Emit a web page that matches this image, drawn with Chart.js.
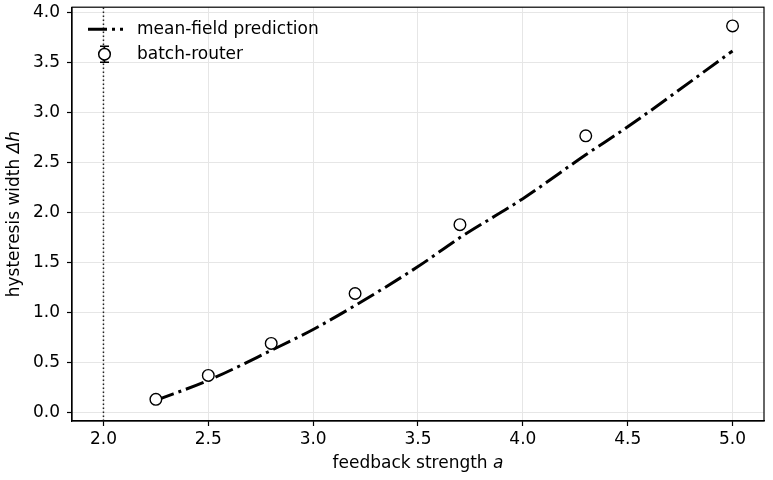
<!DOCTYPE html>
<html><head><meta charset="utf-8">
<script src="https://cdn.jsdelivr.net/npm/chart.js@4/dist/chart.umd.min.js"></script>
<style>html,body{margin:0;padding:0;background:#fff}canvas{display:block}</style>
</head><body>
<canvas id="c" width="773" height="480"></canvas>
<script>
// measured (batch-router) points
const A_MEASURED = [2.25, 2.5, 2.8, 3.2, 3.7, 4.3, 5.0];
const DH_MEASURED = [0.13, 0.37, 0.69, 1.19, 1.88, 2.77, 3.87];
// mean-field prediction curve
const A_MEANFIELD = [2.25, 2.5, 2.8, 3.0, 3.2, 3.5, 3.7, 4.0, 4.3, 4.5, 5.0];
const DH_MEANFIELD = [0.12, 0.32, 0.62, 0.83, 1.07, 1.46, 1.75, 2.14, 2.58, 2.86, 3.62];
// critical feedback strength (vertical dotted line)
const A_CRITICAL = 2.0;
// axes
const X_TICKS = [2.0, 2.5, 3.0, 3.5, 4.0, 4.5, 5.0];
const Y_TICKS = [0.0, 0.5, 1.0, 1.5, 2.0, 2.5, 3.0, 3.5, 4.0];
const X_LIMITS = [1.85, 5.15];
const Y_LIMITS = [-0.087, 4.058];
const LEGEND_LABELS = ['mean-field prediction', 'batch-router'];

const FONT = 'DejaVu Sans';
const FS = 17;

const measured = A_MEASURED.map((a, i) => ({x: a, y: DH_MEASURED[i]}));
const meanfield = A_MEANFIELD.map((a, i) => ({x: a, y: DH_MEANFIELD[i]}));
const vline = [{x: A_CRITICAL, y: Y_LIMITS[0]}, {x: A_CRITICAL, y: Y_LIMITS[1]}];

function drawMixed(ctx, parts, x, y, align) {
  let total = 0;
  const widths = parts.map(([t, it]) => {
    ctx.font = (it ? 'italic ' : '') + FS + 'px "' + FONT + '"';
    const w = ctx.measureText(t).width; total += w; return w;
  });
  let cx = align === 'center' ? x - total / 2 : x;
  parts.forEach(([t, it], i) => {
    ctx.font = (it ? 'italic ' : '') + FS + 'px "' + FONT + '"';
    ctx.fillText(t, cx, y);
    cx += widths[i];
  });
}

const decor = {
  id: 'decor',
  afterDraw(chart) {
    const ctx = chart.ctx, ca = chart.chartArea;
    ctx.save();
    ctx.strokeStyle = '#000'; ctx.lineWidth = 1.2;
    ctx.strokeRect(ca.left, ca.top, ca.right - ca.left, ca.bottom - ca.top);
    ctx.fillStyle = '#000';
    ctx.textAlign = 'left'; ctx.textBaseline = 'alphabetic';
    drawMixed(ctx, [['feedback strength ', false], ['a', true]], (ca.left + ca.right) / 2, 468, 'center');
    ctx.save();
    ctx.translate(19, (ca.top + ca.bottom) / 2);
    ctx.rotate(-Math.PI / 2);
    drawMixed(ctx, [['hysteresis width ', false], ['\u0394h', true]], 0, 0, 'center');
    ctx.restore();
    // legend
    const lx = ca.left + 16, ly1 = ca.top + 22, ly2 = ca.top + 47;
    ctx.strokeStyle = '#000'; ctx.lineWidth = 3; ctx.lineCap = 'butt';
    ctx.beginPath(); ctx.moveTo(lx, ly1); ctx.lineTo(lx + 19, ly1);
    ctx.moveTo(lx + 24, ly1); ctx.lineTo(lx + 27, ly1);
    ctx.moveTo(lx + 32, ly1); ctx.lineTo(lx + 35, ly1);
    ctx.stroke();
    const mx = lx + 16.5;
    ctx.lineWidth = 1.5;
    ctx.beginPath();
    ctx.moveTo(mx, ly2 - 8); ctx.lineTo(mx, ly2 + 8);
    ctx.moveTo(mx - 4.5, ly2 - 8); ctx.lineTo(mx + 4.5, ly2 - 8);
    ctx.moveTo(mx - 4.5, ly2 + 8); ctx.lineTo(mx + 4.5, ly2 + 8);
    ctx.stroke();
    ctx.beginPath(); ctx.arc(mx, ly2, 5.8, 0, Math.PI * 2);
    ctx.fillStyle = '#fff'; ctx.fill(); ctx.stroke();
    ctx.fillStyle = '#000';
    ctx.font = FS + 'px "' + FONT + '"';
    ctx.textBaseline = 'middle';
    ctx.fillText(LEGEND_LABELS[0], lx + 49, ly1);
    ctx.fillText(LEGEND_LABELS[1], lx + 49, ly2);
    ctx.restore();
  }
};

const gridCommon = {color: '#e6e6e6', lineWidth: 1, tickLength: 5, tickColor: '#000', tickWidth: 1.2, drawTicks: true};

new Chart(document.getElementById('c'), {
  type: 'scatter',
  data: {
    datasets: [
      {label: LEGEND_LABELS[1], data: measured, order: 0, showLine: false,
       pointStyle: 'circle', pointRadius: 5.8, pointBackgroundColor: '#fff', pointBorderColor: '#000', pointBorderWidth: 1.4},
      {label: LEGEND_LABELS[0], data: meanfield, order: 1, showLine: true, type: 'line',
       borderColor: '#000', borderWidth: 3, borderDash: [19, 5, 3, 5], pointRadius: 0,
       cubicInterpolationMode: 'monotone', fill: false},
      {label: 'critical', data: vline, order: 2, showLine: true, type: 'line',
       borderColor: '#222', borderWidth: 1.5, borderDash: [1.5, 2.5], pointRadius: 0, fill: false}
    ]
  },
  options: {
    responsive: false, animation: false, devicePixelRatio: 1,
    layout: {padding: {top: 7, right: 9, left: 0, bottom: 0}},
    plugins: {legend: {display: false}, tooltip: {enabled: false}},
    scales: {
      x: {type: 'linear', min: X_LIMITS[0], max: X_LIMITS[1],
          afterBuildTicks: s => { s.ticks = X_TICKS.map(v => ({value: v})); },
          afterFit: s => { s.height = 59; s.paddingLeft = 0; s.paddingRight = 0; },
          ticks: {callback: v => Number(v).toFixed(1), font: {family: FONT, size: FS}, color: '#000', padding: 3, maxRotation: 0, autoSkip: false},
          grid: gridCommon, border: {color: '#000', width: 1.2}},
      y: {type: 'linear', min: Y_LIMITS[0], max: Y_LIMITS[1],
          afterBuildTicks: s => { s.ticks = Y_TICKS.map(v => ({value: v})); },
          afterFit: s => { s.width = 72; s.paddingTop = 0; s.paddingBottom = 0; },
          ticks: {callback: v => Number(v).toFixed(1), font: {family: FONT, size: FS}, color: '#000', padding: 7, autoSkip: false},
          grid: gridCommon, border: {color: '#000', width: 1.2}}
    }
  },
  plugins: [decor]
});
</script>
</body></html>
